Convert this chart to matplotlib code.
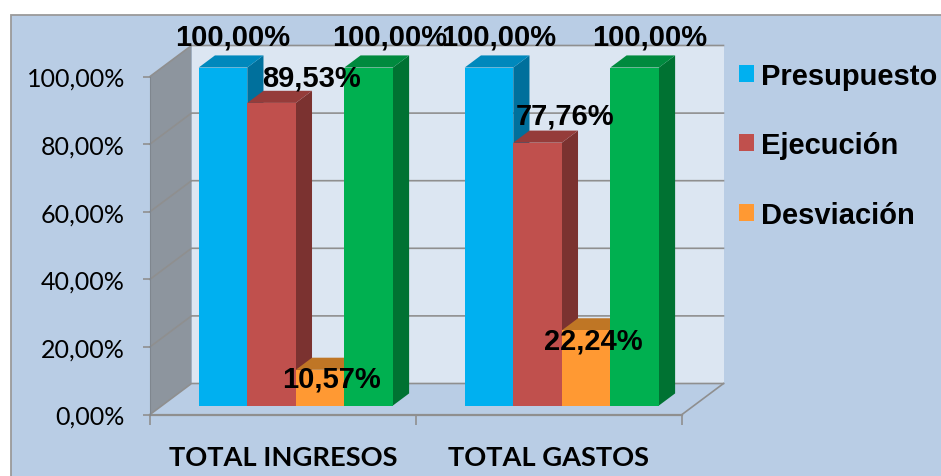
import matplotlib
matplotlib.use('Agg')
import matplotlib.pyplot as plt
from matplotlib.patches import Polygon, Patch, Rectangle

categories = ['TOTAL INGRESOS', 'TOTAL GASTOS']
presupuesto = [100.00, 100.00]
ejecucion = [89.53, 77.76]
desviacion = [10.57, 22.24]
cuarta = [100.00, 100.00]
series_names = ['Presupuesto', 'Ejecución', 'Desviación']
y_ticks = [0, 20, 40, 60, 80, 100]

W, H = 941, 477
BG = '#B9CDE5'
GRAY = '#8F8F8F'

# front, top, side shades for each bar in a group
front = ['#00B0F0', '#C0504D', '#FF9933', '#00B050']
top = ['#0088BC', '#953C3A', '#BF7625', '#008A3E']
side = ['#00709C', '#7B3230', '#A86520', '#007232']

# fake 3d: z=0 is the axis plane, z=1 the back wall
DX = 41.5 / 266
DY = 31 / 3.38
BAR_W = 0.1825
BAR_START = 0.138
Z0, Z1 = 0.29, 0.68

# label offsets in pixels from the top middle of each bar front
lab_off = [
    [(10, 31), (40, 25), (11, -9), (21, 31)],
    [(10, 31), (28, 27), (7, -10), (15, 31)],
]


def pr(x, y, z):
    return (x + z * DX, y + z * DY)


def poly(ax, pts, color, edge='none', z=1):
    ax.add_patch(Polygon(pts, closed=True, facecolor=color, edgecolor=edge,
                         linewidth=0.6, clip_on=False, zorder=z))


fig = plt.figure(figsize=(W / 100, H / 100), dpi=100, facecolor='white')
fig.add_artist(Rectangle((10.5 / W, -0.05), 1.1, (477 - 16) / 477 + 0.05,
                         transform=fig.transFigure, facecolor=BG,
                         edgecolor='#9A9A9A', linewidth=1.3, zorder=-1))

ax = fig.add_axes([150 / W, (H - 415.5) / H, 532 / W, 338 / H])
ax.patch.set_visible(False)
ax.set_xlim(0, 2)
ax.set_ylim(0, 100)

# walls
poly(ax, [pr(0, 0, 1), pr(2, 0, 1), pr(2, 100, 1), pr(0, 100, 1)], '#DCE6F2')
poly(ax, [pr(0, 0, 0), pr(0, 0, 1), pr(0, 100, 1), pr(0, 100, 0)], '#8D959E')
for t in y_ticks:
    p0, p1, p2 = pr(0, t, 0), pr(0, t, 1), pr(2, t, 1)
    ax.plot([p0[0], p1[0], p2[0]], [p0[1], p1[1], p2[1]], color=GRAY, lw=1.2,
            clip_on=False, zorder=2, solid_joinstyle='miter')
p0, p1 = pr(2, 0, 0), pr(2, 0, 1)
ax.plot([p0[0], p1[0]], [p0[1], p1[1]], color=GRAY, lw=1.2, clip_on=False, zorder=2)
p0, p1 = pr(0, 0, 0), pr(2, 0, 0)
ax.plot([p0[0], p1[0]], [p0[1], p1[1]], color=GRAY, lw=1.6, clip_on=False, zorder=2)

# bars, left to right so each one covers the side of the previous
data = [presupuesto, ejecucion, desviacion, cuarta]
n = 3
for g in range(len(categories)):
    for s in range(len(data)):
        v = data[s][g]
        x0 = g + BAR_START + s * BAR_W
        x1 = x0 + BAR_W
        poly(ax, [pr(x1, 0, Z0), pr(x1, 0, Z1), pr(x1, v, Z1), pr(x1, v, Z0)],
             side[s], z=n)
        poly(ax, [pr(x0, v, Z0), pr(x1, v, Z0), pr(x1, v, Z1), pr(x0, v, Z1)],
             top[s], z=n)
        poly(ax, [pr(x0, 0, Z0), pr(x1, 0, Z0), pr(x1, v, Z0), pr(x0, v, Z0)],
             front[s], z=n)
        n += 1

# data labels on top of everything
for g in range(len(categories)):
    for s in range(len(data)):
        v = data[s][g]
        x0 = g + BAR_START + s * BAR_W
        ax.annotate(f'{v:.2f}%'.replace('.', ','),
                    xy=pr(x0 + BAR_W / 2, v, Z0), xycoords='data',
                    xytext=(lab_off[g][s][0] * 0.72, lab_off[g][s][1] * 0.72),
                    textcoords='offset points', ha='center', va='center',
                    family='Liberation Sans', fontweight='bold', fontsize=21,
                    color='black', zorder=50, annotation_clip=False)

# axes
for sp in ['top', 'right', 'bottom']:
    ax.spines[sp].set_visible(False)
ax.spines['left'].set_color('#7F868E')
ax.set_yticks(y_ticks)
ax.set_yticklabels([f'{t:.2f}%'.replace('.', ',') for t in y_ticks],
                   family='Lato', fontsize=18, color='black')
ax.tick_params(axis='y', color=GRAY, length=5, width=1.2, pad=13)
ax.set_xticks([0, 1, 2])
ax.set_xticklabels([])
ax.tick_params(axis='x', which='major', color=GRAY, length=7, width=1.2)
ax.set_xticks([0.5, 1.5], minor=True)
ax.set_xticklabels(categories, minor=True, family='Lato', fontweight='bold',
                   fontsize=19.6, color='black')
ax.tick_params(axis='x', which='minor', length=0, pad=22)

handles = [Patch(facecolor=front[i], label=series_names[i]) for i in range(3)]
fig.legend(handles=handles, loc='upper left', bbox_to_anchor=(730 / W, 1 - 54 / H),
           frameon=False, prop={'family': 'Liberation Sans', 'weight': 'bold', 'size': 21},
           handlelength=0.52, handleheight=0.52, handletextpad=0.25,
           labelspacing=1.42, borderpad=0.3, borderaxespad=0)

fig.savefig('out.png', dpi=100, facecolor='white')
